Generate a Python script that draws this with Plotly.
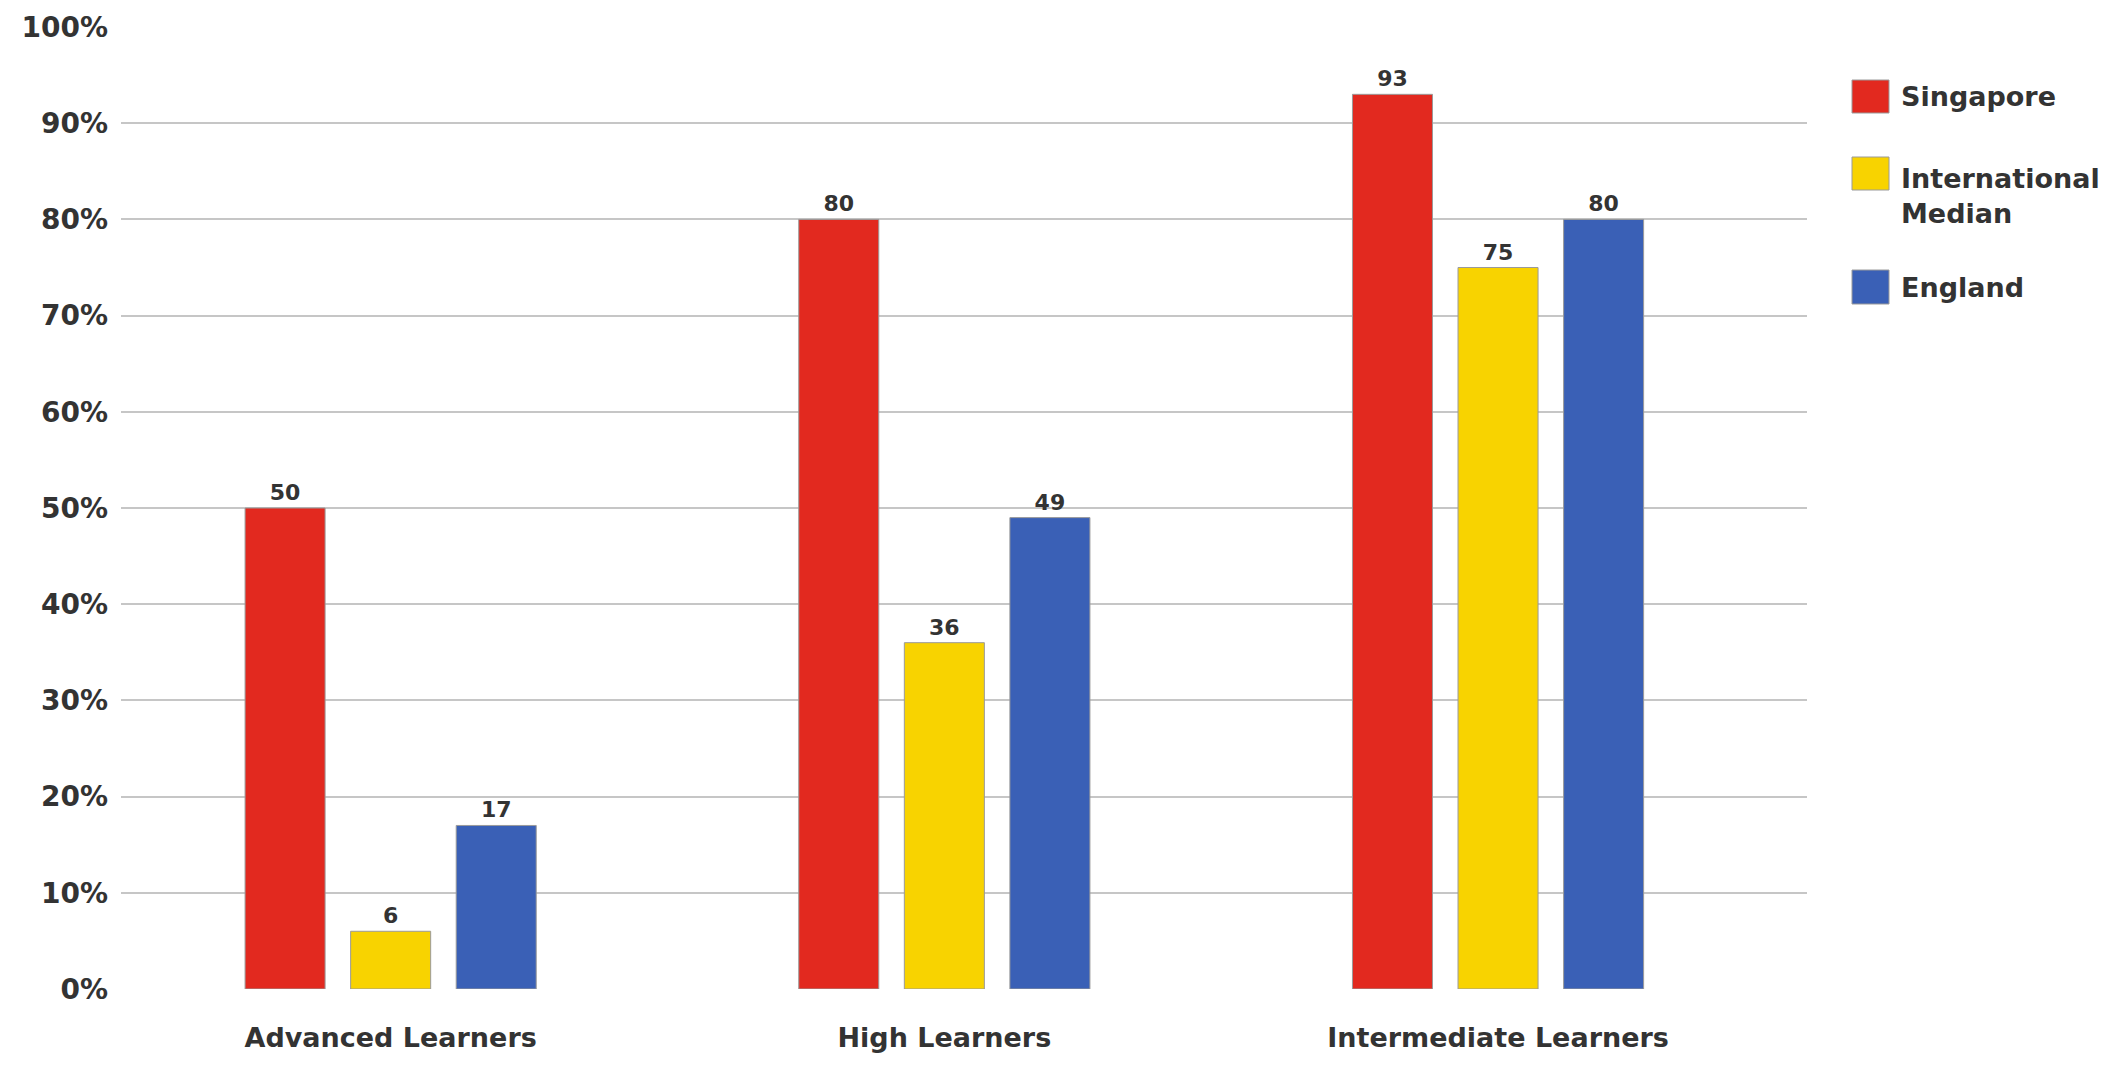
import plotly.graph_objects as go

# Share of pupils reaching each benchmark (%)
categories = ["Advanced Learners", "High Learners", "Intermediate Learners"]
series_names = ["Singapore", "International<br>Median", "England"]
singapore = [50, 80, 93]
international_median = [6, 36, 75]
england = [17, 49, 80]
y_ticks = [0, 10, 20, 30, 40, 50, 60, 70, 80, 90, 100]
y_tick_labels = [f"{v}%" for v in y_ticks]

colors = ["#E2291F", "#F8D300", "#3A60B6"]
font_family = "'DejaVu Sans', sans-serif"
text_color = "#333333"

W, H = 2124, 1065
plot_left, plot_right, plot_top, plot_bottom = 121, 1807, 27, 989

fig = go.Figure()
for name, vals, col in zip(series_names, [singapore, international_median, england], colors):
    fig.add_trace(go.Bar(
        x=list(range(len(categories))),
        y=vals,
        name=name,
        marker=dict(color=col, line=dict(color="#9a9a9a", width=1)),
        text=[str(v) for v in vals],
        textposition="outside",
        textfont=dict(family=font_family, size=22, color=text_color, weight="bold"),
        cliponaxis=False,
        showlegend=False,
    ))

# Legend drawn as swatches + labels to the right of the plot
def px_to_paper_x(px):
    return (px - plot_left) / (plot_right - plot_left)

def px_to_paper_y(py):
    return (plot_bottom - py) / (plot_bottom - plot_top)

legend_rows = [(80, 113, 97), (157, 190, 196), (270, 304, 287)]
for (top, bot, text_y), name, col in zip(legend_rows, series_names, colors):
    fig.add_shape(type="rect", xref="paper", yref="paper",
                  x0=px_to_paper_x(1852), x1=px_to_paper_x(1889),
                  y0=px_to_paper_y(bot), y1=px_to_paper_y(top),
                  fillcolor=col, line=dict(color="#9a9a9a", width=1))
    fig.add_annotation(xref="paper", yref="paper",
                       x=px_to_paper_x(1899), y=px_to_paper_y(text_y),
                       xanchor="left", yanchor="middle", align="left",
                       text=name, showarrow=False,
                       font=dict(family=font_family, size=27, color=text_color, weight="bold"))

fig.update_layout(
    width=W, height=H,
    margin=dict(l=plot_left, r=W - plot_right, t=plot_top, b=H - plot_bottom),
    paper_bgcolor="white", plot_bgcolor="white",
    barmode="group", bargap=0.428, bargroupgap=0.242,
    showlegend=False,
    xaxis=dict(
        tickmode="array", tickvals=list(range(len(categories))), ticktext=categories,
        range=[-0.487, 2.558], showgrid=False, zeroline=False, showline=False,
        ticks="", ticklabelstandoff=30,
        tickfont=dict(family=font_family, size=27, color=text_color, weight="bold"),
    ),
    yaxis=dict(
        range=[0, 100], tickmode="array", tickvals=y_ticks, ticktext=y_tick_labels,
        showgrid=True, gridcolor="#c6c6c6", gridwidth=2, zeroline=False, showline=False,
        ticks="", ticklabelstandoff=12,
        tickfont=dict(family=font_family, size=28, color=text_color, weight="bold"),
    ),
)

fig.write_html("out.html")
